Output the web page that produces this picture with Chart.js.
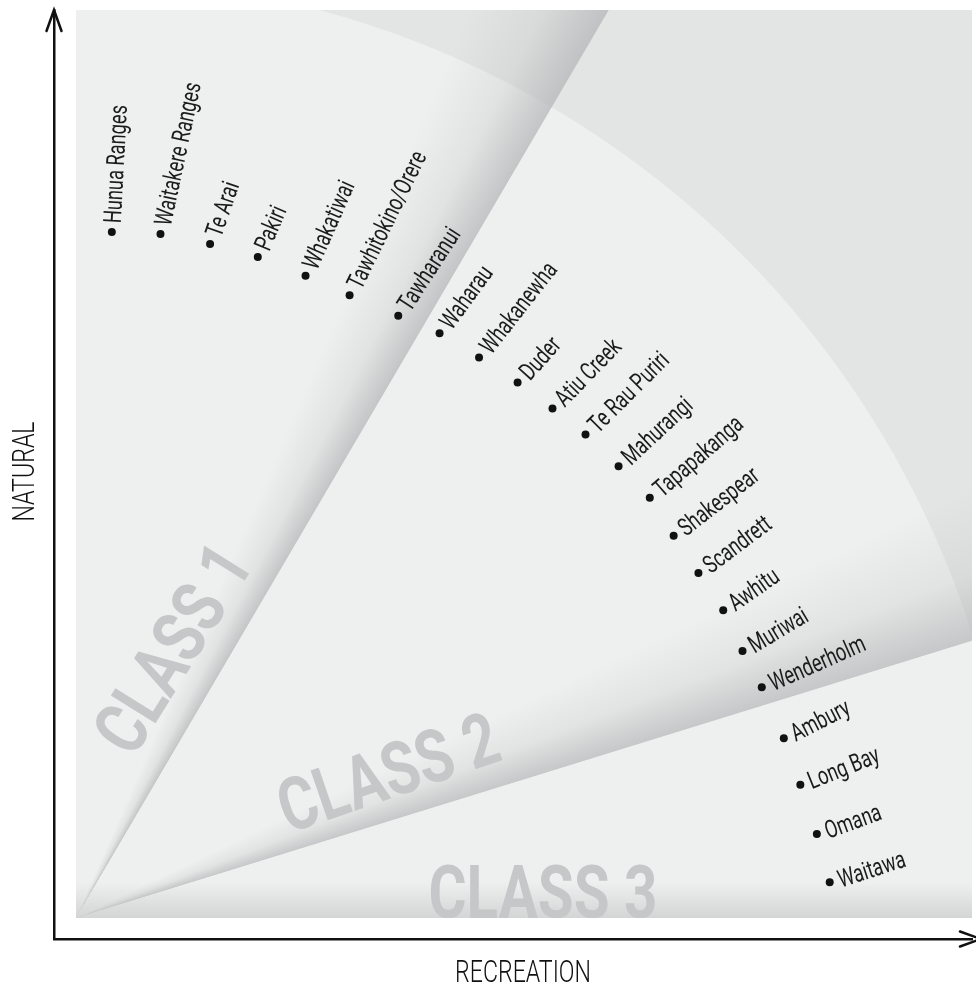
<!DOCTYPE html>
<html>
<head>
<meta charset="utf-8">
<script src="https://cdn.jsdelivr.net/npm/chart.js@4.4.1/dist/chart.umd.min.js"></script>
<style>
  html, body { margin: 0; padding: 0; background: #fff; }
  canvas { display: block; }
</style>
</head>
<body>
<canvas id="chart" width="976" height="983"></canvas>
<script>
/* ── Regional parks: recreation vs natural value ── */
const parks = ['Hunua Ranges', 'Waitakere Ranges', 'Te Arai', 'Pakiri', 'Whakatiwai',
  'Tawhitokino/Orere', 'Tawharanui', 'Waharau', 'Whakanewha', 'Duder', 'Atiu Creek',
  'Te Rau Puriri', 'Mahurangi', 'Tapapakanga', 'Shakespear', 'Scandrett', 'Awhitu',
  'Muriwai', 'Wenderholm', 'Ambury', 'Long Bay', 'Omana', 'Waitawa'];
const recreation = [6.3, 11.6, 17.0, 22.2, 27.4, 32.2, 37.5, 42.0, 46.3, 50.5, 54.3,
  57.9, 61.5, 64.9, 67.5, 70.2, 72.9, 75.0, 77.1, 79.5, 81.3, 83.1, 84.5];
const natural = [76.1, 75.9, 74.8, 73.4, 71.4, 69.3, 67.1, 65.2, 62.6, 59.9, 57.1,
  54.3, 50.9, 47.5, 43.4, 39.4, 35.4, 31.0, 27.1, 21.6, 16.6, 11.3, 6.1];
const classNames = ['CLASS 1', 'CLASS 2', 'CLASS 3'];
const axisTitles = { x: 'RECREATION', y: 'NATURAL' };

// styling only: tilt of each park label (degrees, anticlockwise)
const labelTilt = [87, 78, 71, 67, 66, 64, 57, 54, 52, 48, 46, 45, 43, 41, 38, 37, 35, 31, 24, 27, 22, 20, 18];
const EDGE_1 = 59.6, EDGE_2 = 17.2;   // class boundaries (deg)
const D = Math.PI / 180;

// draw text squeezed horizontally (no condensed web font available)
function squeezed(ctx, text, x, y, deg, font, sx, align, dx, dy) {
  ctx.save();
  ctx.translate(x, y);
  ctx.rotate(-deg * D);
  ctx.translate(dx || 0, dy || 0);
  ctx.scale(sx, 1);
  ctx.font = font;
  ctx.textAlign = align;
  ctx.textBaseline = 'alphabetic';
  ctx.fillText(text, 0, 0);
  ctx.restore();
}

const backdrop = {
  id: 'backdrop',
  beforeDraw(chart) {
    const { ctx, chartArea: a } = chart;
    const L = a.left + 22, T = a.top, R = a.right, B = a.bottom - 21;
    const ox = L, oy = B, far = 2000;
    ctx.save();
    ctx.beginPath(); ctx.rect(L, T, R - L, B - T); ctx.clip();

    ctx.fillStyle = '#e3e5e4';
    ctx.fillRect(L, T, R - L, B - T);
    ctx.beginPath(); ctx.moveTo(ox, oy); ctx.arc(ox, oy, 940, -Math.PI / 2, 0); ctx.closePath();
    ctx.fillStyle = '#eef0ef';
    ctx.fill();

    // fold shading next to each class boundary
    const band = (edge, spread, alpha) => {
      const g = ctx.createConicGradient(-(edge + spread) * D, ox, oy);
      g.addColorStop(0, 'rgba(178,180,182,0)');
      g.addColorStop(spread / 360 * 0.55, `rgba(178,180,182,${alpha * 0.3})`);
      g.addColorStop(spread / 360, `rgba(178,180,182,${alpha})`);
      g.addColorStop(spread / 360 + 0.0005, 'rgba(178,180,182,0)');
      g.addColorStop(1, 'rgba(178,180,182,0)');
      ctx.beginPath();
      ctx.moveTo(ox, oy);
      ctx.lineTo(ox + far * Math.cos((edge + spread) * D), oy - far * Math.sin((edge + spread) * D));
      ctx.lineTo(ox + far * Math.cos(edge * D), oy - far * Math.sin(edge * D));
      ctx.closePath();
      ctx.fillStyle = g;
      ctx.fill();
    };
    band(EDGE_1, 7, 0.72);
    band(EDGE_2, 8.5, 0.68);

    // bottom shade
    const gb = ctx.createLinearGradient(0, B - 36, 0, B);
    gb.addColorStop(0, 'rgba(190,192,193,0)');
    gb.addColorStop(1, 'rgba(190,192,193,0.55)');
    ctx.fillStyle = gb;
    ctx.fillRect(L, B - 36, R - L, 36);

    // class names
    ctx.fillStyle = '#c6c7c8';
    const cf = 'bold 74px Roboto, "DejaVu Sans", sans-serif';
    ctx.font = cf;
    const sx = 229 / ctx.measureText(classNames[2]).width;
    const cap = 26;
    squeezed(ctx, classNames[0], ox + 96, oy - 270, 58, cf, sx, 'center', 0, cap);
    squeezed(ctx, classNames[1], ox + 312, oy - 146, 19, cf, sx, 'center', 0, cap);
    squeezed(ctx, classNames[2], ox + 467, oy, 0, cf, sx, 'center', 0, 0);
    ctx.restore();
  },
  afterDatasetsDraw(chart) {
    const { ctx } = chart;
    const meta = chart.getDatasetMeta(0);
    ctx.fillStyle = '#1b1b1b';
    meta.data.forEach((pt, i) => {
      squeezed(ctx, parks[i], pt.x, pt.y, labelTilt[i], '25px Roboto, "DejaVu Sans", sans-serif', 0.73, 'left', 9, 8.5);
    });
  },
  afterDraw(chart) {
    const { ctx, chartArea: a } = chart;
    ctx.save();
    ctx.strokeStyle = '#111';
    ctx.lineWidth = 2.5;
    ctx.lineCap = 'round';
    ctx.beginPath();
    ctx.moveTo(a.left - 7.5, a.top + 21); ctx.lineTo(a.left, a.top); ctx.lineTo(a.left + 7.5, a.top + 21);
    ctx.stroke();
    ctx.beginPath();
    ctx.moveTo(a.right - 12, a.bottom - 7.5); ctx.lineTo(a.right + 9, a.bottom); ctx.lineTo(a.right - 12, a.bottom + 7.5);
    ctx.stroke();

    ctx.fillStyle = '#111';
    const tf = '300 32px Roboto, "DejaVu Sans", sans-serif';
    ctx.font = tf;
    const tx = 136 / ctx.measureText(axisTitles.x).width;
    squeezed(ctx, axisTitles.x, (a.left + a.right) / 2 + 10, a.bottom + 43, 0, tf, tx, 'center');
    squeezed(ctx, axisTitles.y, a.left - 20, (a.top + a.bottom) / 2 - 3, 90, tf, tx, 'center');
    ctx.restore();
  }
};

const axis = {
  type: 'linear', min: 0, max: 100,
  ticks: { display: false },
  grid: { display: false, drawTicks: false },
  border: { display: true, color: '#111', width: 2.5 },
};

new Chart(document.getElementById('chart'), {
  type: 'scatter',
  data: {
    datasets: [{
      label: 'Parks',
      data: parks.map((p, i) => ({ x: recreation[i], y: natural[i] })),
      pointRadius: 4,
      pointBackgroundColor: '#111',
      pointBorderWidth: 0,
    }],
  },
  options: {
    responsive: false,
    animation: false,
    layout: { padding: { left: 54, top: 10, right: 0, bottom: 44 } },
    scales: { x: axis, y: axis },
    plugins: { legend: { display: false }, tooltip: { enabled: false } },
  },
  plugins: [backdrop],
});
</script>
</body>
</html>
